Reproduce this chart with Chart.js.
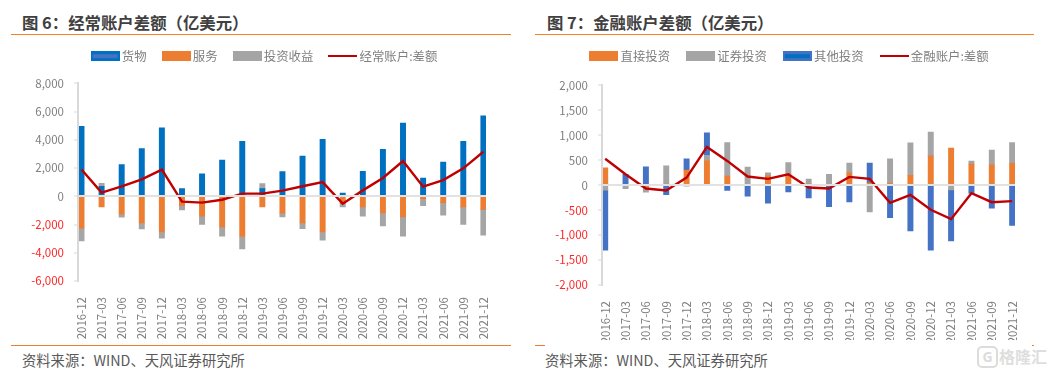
<!DOCTYPE html>
<html>
<head>
<meta charset="utf-8">
<script src="https://cdn.jsdelivr.net/npm/chart.js@4/dist/chart.umd.min.js"></script>
<style>
    html, body { margin: 0; padding: 0; background: #fff; }
    body { position: relative; width: 1052px; height: 373px; overflow: hidden; font-family: "Noto Sans CJK SC", sans-serif; }
    .title { position: absolute; top: 10px; font-size: 16.4px; line-height: 24px; font-weight: 700; color: #404040; white-space: nowrap; }
    .source { position: absolute; top: 349px; font-size: 14.3px; line-height: 21px; color: #595959; white-space: nowrap; }
    .rule { position: absolute; height: 1px; }
    canvas { position: absolute; top: 31px; }
    .logo { position: absolute; left: 977px; top: 346px; width: 17px; height: 18px; border: 2px solid #dcdcdc; border-radius: 5px; font: 700 14px/18px "Noto Sans"; color: #dcdcdc; text-align: center; }
    .mark { position: absolute; left: 999px; top: 344px; font-size: 16px; line-height: 24px; font-weight: 700; color: #dedede; white-space: nowrap; }
</style>
</head>
<body>
<div class="title" style="left:22px">图 6：经常账户差额（亿美元）</div>
<div class="title" style="left:547px">图 7：金融账户差额（亿美元）</div>
<div class="rule" style="left:11px;width:500px;top:34px;background:#F58220"></div>
<div class="rule" style="left:535px;width:499px;top:34px;background:#F58220"></div>
<div class="rule" style="left:11px;width:500px;top:345px;background:#ED7D31"></div>
<div class="rule" style="left:535px;width:10px;top:345px;background:#ED7D31"></div>
<div class="rule" style="left:1032px;width:2px;top:345px;background:#ED7D31"></div>

<canvas id="chart6" width="526" height="309" style="left:0"></canvas>
<canvas id="chart7" width="526" height="310" style="left:528px;top:30px"></canvas>

<div class="source" style="left:22px">资料来源：WIND、天风证券研究所</div>
<div class="source" style="left:545px">资料来源：WIND、天风证券研究所</div>
<div class="logo">G</div>
<div class="mark">格隆汇</div>

<script>
const dates = ['2016-12', '2017-03', '2017-06', '2017-09', '2017-12', '2018-03', '2018-06', '2018-09', '2018-12', '2019-03', '2019-06',
    '2019-09', '2019-12', '2020-03', '2020-06', '2020-09', '2020-12', '2021-03', '2021-06', '2021-09', '2021-12'];

// 图 6
const goods = [4950, 710, 2240, 3390, 4855, 550, 1600, 2570, 3890, 550, 1745, 2850, 4030, 230, 1770, 3320, 5185, 1300, 2430, 3890, 5700];
const services = [-2260, -750, -1270, -1885, -2520, -640, -1410, -2170, -2850, -750, -1200, -1885, -2520, -520, -750, -1180, -1460, -170, -450, -750, -920];
const income = [-900, 210, -215, -425, -450, -330, -590, -660, -875, 350, -260, -405, -590, -230, -660, -920, -1370, -490, -890, -1250, -1840];
const currentNet = [1900, 260, 700, 1200, 1890, -380, -450, -240, 190, 190, 400, 710, 1010, -520, 420, 1300, 2500, 680, 1150, 1980, 3160];

// 图 7
const direct = [350, 0, -30, 10, 305, 490, 185, 0, 187, 215, 10, 0, 250, 50, 40, 200, 587, 745, 425, 410, 440];
const securities = [-100, -70, -110, 380, -15, 110, 670, 365, 60, 240, 115, 220, 195, -535, 490, 650, 480, -95, 60, 295, 415];
const other = [-1200, 220, 370, -190, 225, 450, -105, -220, -360, -135, -255, -430, -335, 395, -650, -915, -1300, -1020, -165, -460, -805];
const financialNet = [530, 220, -67, -107, 153, 767, 487, 173, 127, 220, -47, -67, 167, 127, -353, -193, -493, -680, -160, -340, -320];

Chart.defaults.font.family = '"Noto Sans CJK SC", sans-serif';
Chart.defaults.color = '#7f7f7f';
Chart.defaults.animation = false;
Chart.defaults.responsive = false;

const axisGray = '#d9d9d9';

// legend swatches, drawn on small canvases so bars and the line can share one legend
function swatch(fill, edge, height) {
    const c = document.createElement('canvas');
    c.width = 29;
    c.height = height;
    const g = c.getContext('2d');
    g.fillStyle = edge;
    g.fillRect(0, 0, 29, height);
    if (fill !== edge) {
        g.fillStyle = fill;
        g.fillRect(2, 3, 25, height - 6);
    }
    return c;
}

function points(values) {
    return values.map((y, i) => ({ x: i, y: y }));
}

function barSet(label, values, color, icon) {
    return { label: label, data: points(values), backgroundColor: color, stack: 'flow', order: 1, barThickness: 5.3, icon: icon };
}

function makeChart(id, conf) {
    new Chart(document.getElementById(id), {
        type: 'bar',
        data: {
            datasets: conf.bars.concat([{
                type: 'line',
                label: conf.lineLabel,
                data: points(conf.line),
                borderColor: '#C00000',
                borderWidth: 2.4,
                pointRadius: 0,
                tension: 0,
                stack: 'net',
                order: 0,
                icon: swatch('#C00000', '#C00000', 2)
            }])
        },
        options: {
            layout: { padding: { right: conf.rightPad } },
            plugins: {
                tooltip: { enabled: false },
                legend: {
                    position: 'top',
                    labels: {
                        color: '#7f7f7f',
                        font: { size: 12.4 },
                        padding: conf.legendPad,
                        usePointStyle: true,
                        pointStyleWidth: 21,
                        generateLabels: chart => chart.data.datasets.map((d, i) => ({
                            text: d.label,
                            datasetIndex: i,
                            pointStyle: d.icon,
                            fontColor: '#7f7f7f'
                        }))
                    }
                }
            },
            scales: {
                x: {
                    type: 'linear',
                    offset: false,
                    stacked: true,
                    min: conf.xMin,
                    max: conf.xMax,
                    grid: { display: false, offset: false },
                    border: { display: false },
                    afterBuildTicks: scale => { scale.ticks = dates.map((d, i) => ({ value: i })); },
                    afterFit: scale => {
                        scale.height = conf.bottomHeight;
                        // rotated end labels must not push the plot area in
                        scale.paddingLeft = 0;
                        scale.paddingRight = 0;
                    },
                    ticks: {
                        autoSkip: false,
                        minRotation: 90,
                        maxRotation: 90,
                        padding: 8,
                        font: { size: 11.5 },
                        color: '#7f7f7f',
                        callback: value => dates[value]
                    }
                },
                y: {
                    stacked: true,
                    min: conf.yMin,
                    max: conf.yMax,
                    afterFit: scale => { scale.width = conf.axisWidth; },
                    border: { color: axisGray, width: 2, z: 1 },
                    grid: {
                        z: 1,
                        lineWidth: 2,
                        tickLength: 4,
                        tickWidth: 1,
                        tickColor: axisGray,
                        color: ctx => ctx.tick.value === 0 ? '#e2e2e2' : 'transparent'
                    },
                    ticks: {
                        stepSize: conf.yStep,
                        padding: 10,
                        font: { size: 11.5 },
                        color: ctx => ctx.tick.value < 0 ? '#FF2626' : '#7f7f7f'
                    }
                }
            }
        },
        plugins: [{
            // extra room under the legend so the plot starts where it should
            id: 'legendGap',
            beforeLayout(chart) {
                if (chart.legend.gapDone) return;
                const fit = chart.legend.fit;
                chart.legend.fit = function () {
                    fit.call(this);
                    this.height += conf.legendGap;
                };
                chart.legend.gapDone = true;
            },
            // centre the legend on the whole panel, not on the padded box
            afterLayout(chart) {
                chart.legend.right = chart.width + conf.legendShift;
            }
        }]
    });
}

makeChart('chart6', {
    bars: [
        barSet('货物', goods, '#0070C0', swatch('#4472C4', '#0070C0', 10)),
        barSet('服务', services, '#ED7D31', swatch('#ED7D31', '#ED7D31', 10)),
        barSet('投资收益', income, '#A5A5A5', swatch('#A5A5A5', '#A5A5A5', 10))
    ],
    line: currentNet,
    lineLabel: '经常账户:差额',
    xMin: -0.174,
    xMax: 20.13,
    yMin: -6000,
    yMax: 8000,
    yStep: 2000,
    axisWidth: 78,
    rightPad: 40,
    bottomHeight: 59,
    legendPad: 19,
    legendGap: 11,
    legendShift: 6
});

makeChart('chart7', {
    bars: [
        barSet('直接投资', direct, '#ED7D31', swatch('#ED7D31', '#ED7D31', 10)),
        barSet('证券投资', securities, '#A5A5A5', swatch('#A5A5A5', '#A5A5A5', 10)),
        barSet('其他投资', other, '#4472C4', swatch('#0070C0', '#4472C4', 10))
    ],
    line: financialNet,
    lineLabel: '金融账户:差额',
    xMin: -0.157,
    xMax: 20.14,
    yMin: -2000,
    yMax: 2000,
    yStep: 500,
    axisWidth: 74,
    rightPad: 39,
    bottomHeight: 55,
    legendPad: 20,
    legendGap: 13,
    legendShift: 0
});
</script>
</body>
</html>
